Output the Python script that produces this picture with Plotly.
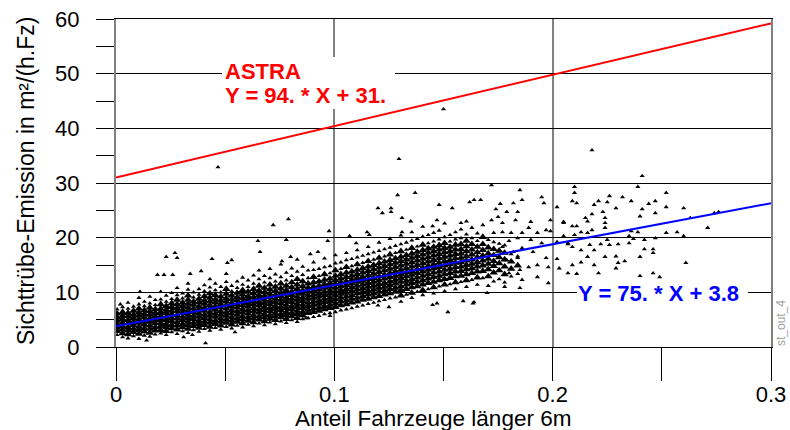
import plotly.graph_objects as go

# ---------------- data ----------------
# dense cloud: x positions of columns and the y values seen in each column
cloud_x = [0.0005, 0.0030, 0.0055, 0.0080, 0.0105, 0.0130, 0.0155, 0.0180, 0.0205, 0.0230,
           0.0255, 0.0280, 0.0305, 0.0330, 0.0355, 0.0380, 0.0405, 0.0430, 0.0455, 0.0480,
           0.0505, 0.0530, 0.0555, 0.0580, 0.0605, 0.0630, 0.0655, 0.0680, 0.0705, 0.0730,
           0.0755, 0.0780, 0.0805, 0.0830, 0.0855, 0.0880, 0.0905, 0.0930, 0.0955, 0.0980,
           0.1005, 0.1030, 0.1055, 0.1080, 0.1105, 0.1130, 0.1155, 0.1180, 0.1205, 0.1230,
           0.1255, 0.1280, 0.1305, 0.1330, 0.1355, 0.1380, 0.1405, 0.1430, 0.1455, 0.1480,
           0.1505, 0.1530, 0.1555, 0.1580, 0.1605, 0.1630, 0.1655, 0.1680, 0.1705, 0.1730,
           0.1755, 0.1780, 0.1810, 0.1840]
cloud_y = [
    [2.2, 2.9, 3.5, 4.1, 4.8, 5.4, 6.1, 6.9],
    [1.8, 2.5, 3.2, 3.8, 4.4, 5.1, 5.7, 6.4, 7.3],
    [1.6, 2.3, 3.0, 3.6, 4.3, 4.9, 5.6, 6.2, 7.0, 8.1],
    [2.0, 2.7, 3.3, 4.0, 4.6, 5.3, 5.9, 6.6, 7.4],
    [1.5, 2.4, 3.1, 3.7, 4.4, 5.0, 5.7, 6.3, 7.0, 7.8, 9.0],
    [2.1, 2.8, 3.4, 4.1, 4.7, 5.4, 6.0, 6.7, 7.5, 8.3],
    [1.9, 2.6, 3.3, 3.9, 4.6, 5.2, 5.9, 6.5, 7.2, 8.0, 9.2],
    [2.3, 3.0, 3.6, 4.3, 4.9, 5.6, 6.2, 6.9, 7.7, 8.6],
    [2.5, 3.1, 3.8, 4.4, 5.1, 5.7, 6.4, 7.0, 7.8, 8.7, 10.1],
    [2.2, 2.9, 3.6, 4.2, 4.9, 5.5, 6.2, 6.8, 7.5, 8.3, 9.4],
    [2.7, 3.4, 4.0, 4.7, 5.3, 6.0, 6.6, 7.3, 8.0, 8.8, 9.9],
    [2.4, 3.2, 3.9, 4.5, 5.2, 5.8, 6.5, 7.1, 7.8, 8.6, 9.5, 10.8],
    [2.9, 3.6, 4.2, 4.9, 5.5, 6.2, 6.8, 7.5, 8.1, 8.9, 9.8],
    [2.6, 3.3, 4.0, 4.6, 5.3, 5.9, 6.6, 7.2, 7.9, 8.6, 9.4, 10.5, 11.6],
    [3.1, 3.8, 4.4, 5.1, 5.7, 6.4, 7.0, 7.7, 8.3, 9.1, 10.0],
    [2.8, 3.5, 4.2, 4.8, 5.5, 6.1, 6.8, 7.4, 8.1, 8.8, 9.6, 10.6],
    [3.3, 4.0, 4.6, 5.3, 5.9, 6.6, 7.2, 7.9, 8.5, 9.3, 10.2, 11.3],
    [3.0, 3.7, 4.4, 5.0, 5.7, 6.3, 7.0, 7.6, 8.3, 9.0, 9.8, 10.9, 12.4],
    [3.5, 4.2, 4.8, 5.5, 6.1, 6.8, 7.4, 8.1, 8.7, 9.5, 10.4, 11.6],
    [3.2, 3.9, 4.6, 5.2, 5.9, 6.5, 7.2, 7.8, 8.5, 9.2, 10.0, 11.0],
    [3.7, 4.4, 5.0, 5.7, 6.3, 7.0, 7.6, 8.3, 8.9, 9.7, 10.6, 11.9, 13.4],
    [3.4, 4.1, 4.8, 5.4, 6.1, 6.7, 7.4, 8.0, 8.7, 9.4, 10.2, 11.2],
    [3.9, 4.6, 5.2, 5.9, 6.5, 7.2, 7.8, 8.5, 9.1, 9.9, 10.8, 12.0],
    [3.6, 4.3, 5.0, 5.6, 6.3, 6.9, 7.6, 8.2, 8.9, 9.6, 10.4, 11.4, 12.7],
    [4.1, 4.8, 5.4, 6.1, 6.7, 7.4, 8.0, 8.7, 9.3, 10.1, 11.0, 12.2],
    [3.8, 4.5, 5.2, 5.8, 6.5, 7.1, 7.8, 8.4, 9.1, 9.8, 10.6, 11.6, 13.1],
    [4.3, 5.0, 5.6, 6.3, 6.9, 7.6, 8.2, 8.9, 9.5, 10.3, 11.2, 12.4, 14.0],
    [4.0, 4.7, 5.4, 6.0, 6.7, 7.3, 8.0, 8.6, 9.3, 10.0, 10.8, 11.8, 13.0],
    [4.5, 5.2, 5.8, 6.5, 7.1, 7.8, 8.4, 9.1, 9.7, 10.5, 11.4, 12.6, 14.3],
    [4.2, 4.9, 5.6, 6.2, 6.9, 7.5, 8.2, 8.8, 9.5, 10.2, 11.0, 12.0, 13.3],
    [4.7, 5.4, 6.0, 6.7, 7.3, 8.0, 8.6, 9.3, 9.9, 10.7, 11.6, 12.8, 15.1],
    [4.4, 5.1, 5.8, 6.4, 7.1, 7.7, 8.4, 9.0, 9.7, 10.4, 11.2, 12.2, 13.6],
    [4.9, 5.6, 6.2, 6.9, 7.5, 8.2, 8.8, 9.5, 10.1, 10.9, 11.8, 13.0, 14.4],
    [4.6, 5.3, 6.0, 6.6, 7.3, 7.9, 8.6, 9.2, 9.9, 10.6, 11.4, 12.4, 13.8, 16.0],
    [5.1, 5.8, 6.4, 7.1, 7.7, 8.4, 9.0, 9.7, 10.3, 11.1, 12.0, 13.2, 14.7],
    [5.3, 6.2, 6.8, 7.5, 8.1, 8.8, 9.4, 10.1, 10.8, 11.6, 12.6, 14.0],
    [5.5, 6.4, 7.0, 7.7, 8.3, 9.0, 9.6, 10.3, 11.0, 11.8, 12.8, 14.1, 15.5],
    [5.7, 6.6, 7.2, 7.9, 8.5, 9.2, 9.8, 10.5, 11.2, 12.0, 13.0, 14.3],
    [6.0, 6.9, 7.5, 8.2, 8.8, 9.5, 10.1, 10.8, 11.5, 12.3, 13.3, 14.6, 16.2],
    [6.2, 7.1, 7.7, 8.4, 9.0, 9.7, 10.3, 11.0, 11.7, 12.5, 13.5, 14.8],
    [6.4, 7.3, 8.0, 8.7, 9.4, 10.1, 10.8, 11.5, 12.2, 13.0, 14.0, 15.3, 16.8],
    [6.7, 7.6, 8.3, 9.0, 9.7, 10.4, 11.1, 11.8, 12.5, 13.3, 14.3, 15.5],
    [6.9, 7.8, 8.5, 9.2, 9.9, 10.6, 11.3, 12.0, 12.8, 13.6, 14.6, 15.9, 17.2],
    [7.1, 8.1, 8.8, 9.5, 10.2, 10.9, 11.6, 12.3, 13.0, 13.8, 14.8, 16.1],
    [7.4, 8.3, 9.0, 9.8, 10.5, 11.2, 11.9, 12.6, 13.3, 14.1, 15.1, 16.4, 17.7],
    [7.6, 8.6, 9.3, 10.0, 10.7, 11.4, 12.1, 12.8, 13.6, 14.4, 15.4, 16.7],
    [7.9, 8.8, 9.6, 10.3, 11.0, 11.7, 12.4, 13.1, 13.9, 14.7, 15.7, 17.0, 18.3],
    [8.1, 9.1, 9.8, 10.5, 11.2, 11.9, 12.6, 13.4, 14.2, 15.0, 16.0, 17.3],
    [8.4, 9.3, 10.1, 10.8, 11.5, 12.2, 12.9, 13.7, 14.5, 15.3, 16.3, 17.6, 19.1],
    [8.6, 9.6, 10.3, 11.0, 11.7, 12.5, 13.2, 14.0, 14.8, 15.6, 16.6, 17.9],
    [8.9, 9.8, 10.6, 11.3, 12.0, 12.8, 13.5, 14.3, 15.1, 15.9, 16.9, 18.2, 19.8],
    [9.1, 10.1, 10.8, 11.6, 12.3, 13.0, 13.8, 14.6, 15.4, 16.2, 17.2, 18.5],
    [8.3, 9.4, 10.4, 11.1, 11.9, 12.6, 13.3, 14.1, 14.9, 15.7, 16.5, 17.5, 18.8, 20.4],
    [9.6, 10.6, 11.4, 12.1, 12.9, 13.6, 14.4, 15.2, 16.0, 16.8, 17.8, 19.1],
    [9.0, 9.9, 10.9, 11.7, 12.4, 13.2, 13.9, 14.7, 15.5, 16.3, 17.1, 18.1, 19.5, 21.0],
    [10.1, 11.1, 11.9, 12.7, 13.5, 14.2, 15.0, 15.8, 16.6, 17.4, 18.4, 19.8],
    [9.5, 10.4, 11.4, 12.2, 13.0, 13.8, 14.5, 15.3, 16.1, 16.9, 17.7, 18.7, 20.2, 22.0],
    [10.6, 11.7, 12.5, 13.3, 14.1, 14.8, 15.6, 16.4, 17.2, 18.0, 19.0, 20.5],
    [9.8, 10.9, 11.9, 12.8, 13.6, 14.4, 15.1, 15.9, 16.7, 17.5, 18.3, 19.3, 20.9],
    [11.1, 12.2, 13.0, 13.8, 14.6, 15.4, 16.2, 17.0, 17.8, 18.6, 19.7, 21.3],
    [10.2, 11.4, 12.4, 13.3, 14.1, 14.9, 15.7, 16.5, 17.3, 18.1, 19.0, 20.1, 22.6],
    [11.5, 12.6, 13.5, 14.3, 15.1, 15.9, 16.7, 17.5, 18.3, 19.3, 20.5],
    [10.6, 11.8, 12.9, 13.8, 14.6, 15.4, 16.2, 17.0, 17.8, 18.7, 19.7, 21.0],
    [11.9, 13.0, 13.9, 14.7, 15.5, 16.3, 17.1, 17.9, 18.8, 19.9, 21.5],
    [11.0, 12.2, 13.3, 14.2, 15.0, 15.8, 16.6, 17.5, 18.4, 19.4, 20.6, 23.0],
    [12.3, 13.5, 14.4, 15.2, 16.0, 16.9, 17.8, 18.8, 19.9, 21.8],
    [11.4, 12.7, 13.8, 14.7, 15.5, 16.4, 17.3, 18.3, 19.4, 20.8],
    [12.6, 13.9, 14.9, 15.8, 16.7, 17.7, 18.8, 20.1, 22.3],
    [11.2, 12.9, 14.2, 15.2, 16.1, 17.1, 18.2, 19.6],
    [12.0, 13.6, 14.8, 15.7, 16.8, 17.9, 19.2],
    [12.4, 14.0, 15.3, 16.4, 17.6, 18.9],
    [11.8, 13.3, 14.7, 16.0, 17.2, 18.6],
    [12.9, 14.3, 15.6, 17.0],
    [13.4, 14.9, 16.6],
]

# scattered points outside the dense cloud
sparse_x = [0.0467, 0.150, 0.1296, 0.129, 0.137, 0.218, 0.241, 0.172, 0.185, 0.195,
            0.186, 0.079, 0.072, 0.0976, 0.065, 0.078, 0.097, 0.023, 0.027, 0.028,
            0.044, 0.051, 0.053, 0.019, 0.022, 0.026, 0.034, 0.039, 0.011, 0.002,
            0.107, 0.110, 0.066, 0.0925, 0.089, 0.076, 0.080, 0.120, 0.122, 0.126,
            0.126, 0.148, 0.162, 0.164, 0.131, 0.135, 0.154, 0.115, 0.116, 0.131,
            0.145, 0.158, 0.147, 0.167,
            0.031, 0.037, 0.041, 0.014, 0.031, 0.035, 0.0545, 0.087, 0.098, 0.070,
            0.152, 0.145, 0.147, 0.159, 0.1635, 0.125, 0.120, 0.164, 0.170,
            0.182, 0.176, 0.196, 0.202, 0.179, 0.174, 0.184, 0.175, 0.172, 0.190,
            0.189, 0.183, 0.177, 0.199, 0.205, 0.197, 0.199, 0.193, 0.186, 0.181,
            0.177, 0.173, 0.184, 0.190, 0.180, 0.195, 0.202, 0.207, 0.186, 0.177,
            0.182, 0.191, 0.197, 0.202, 0.184, 0.179, 0.193, 0.189, 0.198, 0.203,
            0.185, 0.180, 0.193, 0.186, 0.198, 0.185, 0.178,
            0.210, 0.210, 0.209, 0.211, 0.221, 0.226, 0.225, 0.232, 0.236, 0.239,
            0.244, 0.247, 0.252, 0.219, 0.229, 0.241, 0.252, 0.260, 0.223, 0.247,
            0.218, 0.240, 0.263, 0.274, 0.276, 0.215, 0.224, 0.224, 0.205, 0.209,
            0.211, 0.216, 0.218, 0.224, 0.236, 0.239, 0.252, 0.257, 0.260, 0.271,
            0.213, 0.216, 0.210, 0.205, 0.235, 0.237, 0.247, 0.242, 0.225, 0.222,
            0.226, 0.230, 0.235, 0.217, 0.207, 0.209, 0.213, 0.219, 0.246, 0.242,
            0.224, 0.229, 0.233, 0.240, 0.246, 0.216, 0.213, 0.209, 0.219, 0.230,
            0.229, 0.261, 0.221, 0.240, 0.246, 0.249, 0.211, 0.207]
sparse_y = [32.9, 43.5, 34.4, 27.8, 28.2, 36.0, 31.3, 29.6, 28.7, 27.4,
            26.9, 23.4, 22.3, 21.2, 19.4, 19.6, 19.4, 16.5, 17.2, 16.3,
            16.1, 15.4, 15.9, 13.2, 13.2, 13.2, 13.4, 13.9, 10.1, 7.8,
            20.3, 19.0, 17.4, 17.4, 17.0, 15.7, 16.5, 25.4, 24.5, 24.7,
            25.4, 26.0, 26.5, 26.9, 23.6, 23.0, 25.4, 21.0, 20.5, 21.0,
            22.1, 22.7, 23.2, 26.9,
            -0.2, -1.3, 0.7, 1.2, 1.8, 2.2, 2.7, 5.3, 5.7, 5.0,
            6.4, 7.7, 8.0, 8.4, 8.0, 7.3, 7.6, 8.2, 9.9,
            26.3, 26.2, 26.3, 25.6, 24.7, 25.2, 24.7, 23.8, 23.2, 22.9,
            21.8, 23.2, 22.7, 23.2, 22.9, 21.4, 21.2, 20.9, 20.9, 20.9,
            21.0, 20.9, 19.9, 19.6, 19.4, 19.0, 19.2, 18.8, 18.1, 18.3,
            17.4, 17.4, 16.3, 16.1, 16.3, 15.9, 15.0, 14.6, 14.6, 14.4,
            14.1, 13.5, 12.8, 12.3, 11.7, 10.8, 11.0,
            29.3, 28.2, 26.7, 26.3, 26.7, 27.6, 26.5, 27.4, 26.7, 29.3,
            26.2, 26.7, 28.2, 26.0, 25.4, 25.2, 25.6, 25.4, 24.7, 24.5,
            24.3, 23.9, 23.6, 24.5, 24.7, 23.6, 23.6, 22.7, 22.7, 22.1,
            22.1, 23.0, 21.4, 21.8, 21.2, 21.0, 20.9, 21.0, 20.3, 21.8,
            21.0, 20.9, 20.5, 20.3, 20.3, 19.8, 19.9, 19.6, 19.6, 18.8,
            18.7, 18.8, 19.0, 18.7, 19.0, 18.3, 17.7, 17.7, 17.9, 17.9,
            16.5, 16.6, 15.7, 16.5, 17.2, 16.5, 15.5, 15.0, 15.0, 15.4,
            14.4, 15.4, 13.5, 13.0, 13.5, 12.8, 13.4, 13.5]

# regression lines (slope, intercept) as written on the chart
astra_slope, astra_icpt = 94.0, 31.0
fit_slope, fit_icpt = 75.0, 3.8
line_x = [0.0, 0.3]

x_tickvals = [0.0, 0.1, 0.2, 0.3]
x_ticktext = ["0", "0.1", "0.2", "0.3"]
x_minor = [0.05, 0.15, 0.25]
y_tickvals = [0, 10, 20, 30, 40, 50, 60]
y_minor = [5, 15, 25, 35, 45, 55]

# ---------------- build ----------------
# interior points of a column are drawn with a bigger marker (they merge into the
# solid black core), the points on the edge of each column with the small marker
BIG, SMALL = 7.5, 4.5
core_x, core_y, edge_x, edge_y = [], [], [], []
for cx, ys in zip(cloud_x, cloud_y):
    n = len(ys)
    for i, yv in enumerate(ys):
        if i == 0 or i >= n - (2 if n >= 10 else 1):
            edge_x.append(cx)
            edge_y.append(yv)
        else:
            core_x.append(cx)
            core_y.append(yv)

FONT = "Liberation Sans, Arial, sans-serif"
W, H = 790, 430
L, R, T, B = 116, 19, 19, 83
PW, PH = W - L - R, H - T - B


def px2paper_x(px):
    return (px - L) / PW


def px2paper_y(py):
    return (H - B - py) / PH


def marker(size):
    return dict(symbol="triangle-up", size=size, color="black", opacity=1, line=dict(width=0))


fig = go.Figure()
fig.add_trace(go.Scatter(x=core_x, y=core_y, mode="markers", marker=marker(BIG), hoverinfo="skip"))
fig.add_trace(go.Scatter(x=edge_x, y=edge_y, mode="markers", marker=marker(SMALL), hoverinfo="skip"))
fig.add_trace(go.Scatter(x=sparse_x, y=sparse_y, mode="markers", cliponaxis=False,
                         marker=marker(SMALL), hoverinfo="skip"))
fig.add_trace(go.Scatter(
    x=line_x, y=[fit_slope * v + fit_icpt for v in line_x], mode="lines",
    line=dict(color="#0000ff", width=2)))
fig.add_trace(go.Scatter(
    x=line_x, y=[astra_slope * v + astra_icpt for v in line_x], mode="lines",
    line=dict(color="#ff0000", width=2)))

fig.update_layout(
    template="none",
    width=W, height=H, margin=dict(l=L, r=R, t=T, b=B, pad=0, autoexpand=False),
    paper_bgcolor="white", plot_bgcolor="white", showlegend=False,
    font=dict(family=FONT, color="black"),
    xaxis=dict(range=[0, 0.3], tickvals=x_tickvals, ticktext=x_ticktext, automargin=False,
               ticks="outside", ticklen=33, tickwidth=1, tickcolor="black",
               minor=dict(tickvals=x_minor, ticks="outside", ticklen=33,
                          tickwidth=1, tickcolor="black", showgrid=False),
               showgrid=True, gridcolor="#808080", gridwidth=2,
               showline=True, linecolor="black", linewidth=1, mirror=True,
               zeroline=False, tickfont=dict(size=22, family=FONT, color="black"),
               ticklabelstandoff=-5),
    yaxis=dict(range=[0, 60], tickvals=y_tickvals, automargin=False,
               ticks="outside", ticklen=18, tickwidth=1, tickcolor="black",
               minor=dict(tickvals=y_minor, ticks="outside", ticklen=18,
                          tickwidth=1, tickcolor="black", showgrid=False),
               showgrid=True, gridcolor="black", gridwidth=1,
               showline=True, linecolor="#808080", linewidth=2, mirror=True,
               zeroline=False, tickfont=dict(size=22, family=FONT, color="black"),
               ticklabelstandoff=12),
)

# white boxes behind the equation labels (they interrupt the grid)
fig.add_shape(type="rect", xref="paper", yref="paper", layer="above",
              x0=px2paper_x(222), x1=px2paper_x(395), y0=px2paper_y(109), y1=px2paper_y(57),
              fillcolor="white", line=dict(width=0))
fig.add_shape(type="rect", xref="paper", yref="paper", layer="above",
              x0=px2paper_x(577), x1=px2paper_x(748), y0=px2paper_y(302), y1=px2paper_y(283),
              fillcolor="white", line=dict(width=0))

ann = [
    dict(text="<b>ASTRA</b>", x=px2paper_x(224), y=px2paper_y(71), xanchor="left", yanchor="middle",
         font=dict(size=22, color="#ff0000", family=FONT)),
    dict(text="<b>Y = 94. * X + 31.</b>", x=px2paper_x(224), y=px2paper_y(95.5), xanchor="left",
         yanchor="middle", font=dict(size=22, color="#ff0000", family=FONT)),
    dict(text="<b>Y = 75. * X + 3.8</b>", x=px2paper_x(577), y=px2paper_y(293.5), xanchor="left",
         yanchor="middle", font=dict(size=22, color="#0000ff", family=FONT)),
    dict(text="Anteil Fahrzeuge länger 6m", x=px2paper_x(433), y=px2paper_y(418),
         xanchor="center", yanchor="middle", font=dict(size=22.5, family=FONT)),
    dict(text="Sichttrübe-Emission in m²/(h.Fz)", x=px2paper_x(26), y=px2paper_y(181),
         xanchor="center", yanchor="middle", textangle=-90, font=dict(size=23, family=FONT)),
    dict(text="st_out_4", x=px2paper_x(781), y=px2paper_y(323), xanchor="center", yanchor="middle",
         textangle=-90, font=dict(size=12, color="#a0a0a0", family=FONT)),
]
for a in ann:
    fig.add_annotation(xref="paper", yref="paper", showarrow=False, borderpad=0, **a)

fig.write_html("out.html")
